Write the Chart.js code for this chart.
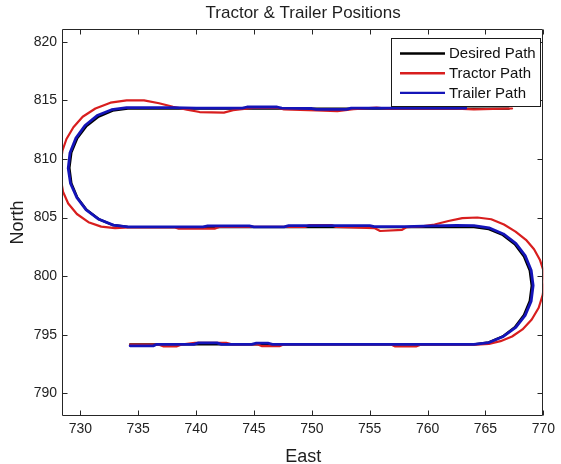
<!DOCTYPE html>
<html>
<head>
<meta charset="utf-8">
<script src="https://cdn.jsdelivr.net/npm/chart.js@4.4.1/dist/chart.umd.min.js"></script>
<style>
  html, body { margin: 0; padding: 0; background: #fff; }
  #wrap { width: 561px; height: 464px; }
</style>
</head>
<body>
<div id="wrap"><canvas id="c" width="561" height="464"></canvas></div>
<script>
// Series names, in legend order
const seriesNames = ['Desired Path', 'Tractor Path', 'Trailer Path'];

// Axis tick values
const eastTicks = [730, 735, 740, 745, 750, 755, 760, 765, 770];
const northTicks = [790, 795, 800, 805, 810, 815, 820];

// Desired path (East / North), driven bottom lane -> right turn -> middle lane -> left turn -> top lane
const desiredEast = [734.3, 764.0, 765.29, 766.5, 767.54, 768.33, 768.83, 769.0, 768.83, 768.33, 767.54, 766.5, 765.29, 764.0,
  734.1, 732.79, 731.58, 730.53, 729.73, 729.22, 729.05, 729.22, 729.73, 730.53, 731.58, 732.79, 734.1, 767.0];
const desiredNorth = [794.18, 794.18, 794.35, 794.85, 795.64, 796.68, 797.88, 799.18, 800.47, 801.68, 802.71, 803.51, 804.01, 804.18,
  804.19, 804.36, 804.87, 805.67, 806.72, 807.93, 809.24, 810.55, 811.77, 812.81, 813.61, 814.12, 814.29, 814.29];

// Tractor path
const tractorEast = [734.3, 736.8, 737.2, 738.3, 738.7, 739.9, 742.6, 743.1, 745.3, 745.7, 747.2, 747.6, 756.8, 757.2, 759.0, 759.4, 764.2,
  765.3, 766.3, 767.3, 768.2, 769.0, 769.6, 769.95, 770.1, 770.0, 769.7, 769.2, 768.5, 767.6, 766.6, 765.5, 764.3, 763.0, 761.8, 760.6, 759.5, 758.2,
  757.8, 755.9, 755.4, 752.1, 751.7, 749.8, 749.4, 742.0, 741.6, 738.5, 738.1, 734.2,
  733.0, 731.8, 730.7, 729.7, 728.95, 728.5, 728.3, 728.3, 728.45, 728.8, 729.4, 730.2, 731.3, 732.6, 734.0, 735.5, 736.8, 738.0, 739.2, 740.3,
  742.4, 743.2, 744.9, 747.1, 747.6, 750.4, 752.2, 753.6, 755.6, 756.6, 762.0, 764.0, 767.3];
const tractorNorth = [794.15, 794.15, 794.0, 794.0, 794.15, 794.3, 794.3, 794.18, 794.18, 794.02, 794.02, 794.18, 794.18, 794.0, 794.0, 794.15, 794.15,
  794.22, 794.45, 794.85, 795.45, 796.3, 797.3, 798.4, 799.5, 800.5, 801.4, 802.3, 803.1, 803.8, 804.4, 804.85, 805.0, 804.95, 804.7, 804.4, 804.25, 804.18,
  803.95, 803.85, 804.1, 804.2, 804.35, 804.35, 804.2, 804.2, 804.05, 804.05, 804.18, 804.15,
  804.1, 804.22, 804.6, 805.3, 806.2, 807.2, 808.4, 809.6, 810.7, 811.7, 812.7, 813.6, 814.3, 814.8, 815.0, 815.0, 814.75, 814.45, 814.2, 814.0,
  813.95, 814.15, 814.35, 814.35, 814.22, 814.15, 814.08, 814.25, 814.38, 814.28, 814.3, 814.22, 814.3];

// Trailer path
const trailerEast = [734.3, 736.3, 736.6, 739.8, 740.2, 741.8, 742.2, 744.8, 745.2, 746.2, 746.6, 764.0,
  765.3, 766.55, 767.62, 768.43, 768.95, 769.12, 768.95, 768.43, 767.62, 766.55, 765.3, 764.0, 762.5, 760.5, 758.0,
  755.4, 755.0, 748.0, 747.6, 745.0, 744.6, 741.0, 740.6, 734.1,
  732.85, 731.6, 730.5, 729.7, 729.15, 728.95, 729.1, 729.6, 730.4, 731.45, 732.7, 734.0, 738.0, 740.0, 744.0, 744.4, 747.0, 747.4,
  750.0, 750.4, 753.0, 753.4, 763.3];
const trailerNorth = [794.05, 794.05, 794.18, 794.18, 794.3, 794.3, 794.18, 794.18, 794.28, 794.28, 794.18, 794.18,
  794.33, 794.85, 795.62, 796.65, 797.87, 799.2, 800.5, 801.75, 802.8, 803.6, 804.12, 804.3, 804.32, 804.28, 804.22,
  804.22, 804.3, 804.3, 804.2, 804.2, 804.28, 804.28, 804.2, 804.2,
  804.35, 804.85, 805.65, 806.7, 807.9, 809.2, 810.5, 811.75, 812.85, 813.7, 814.2, 814.38, 814.38, 814.33, 814.33, 814.43, 814.43, 814.33,
  814.3, 814.22, 814.22, 814.33, 814.33];

const colors = ['#000000', '#d81e1e', '#1414b8'];
const widths = [2.4, 2.2, 2.8];
const FONT = "'Liberation Sans', Arial, Helvetica, sans-serif";

function toPoints(xs, ys) {
  return xs.map((x, i) => ({ x: x, y: ys[i] }));
}

// Frame, inward tick marks on all four sides, and boxed legend
const framePlugin = {
  id: 'frameAndLegend',
  afterDraw(chart) {
    const ctx = chart.ctx;
    const a = chart.chartArea;
    const xs = chart.scales.x, ys = chart.scales.y;
    const L = Math.round(a.left) - 0.5, R = Math.round(a.right) - 0.5;
    const T = Math.round(a.top) - 0.5, B = Math.round(a.bottom) + 0.5;
    const tl = 5;
    ctx.save();
    ctx.strokeStyle = '#262626';
    ctx.lineWidth = 1;
    ctx.beginPath();
    ctx.rect(L, T, R - L, B - T);
    eastTicks.forEach(v => {
      const px = Math.round(xs.getPixelForValue(v)) + 0.5;
      ctx.moveTo(px, B); ctx.lineTo(px, B - tl);
      ctx.moveTo(px, T); ctx.lineTo(px, T + tl);
    });
    northTicks.forEach(v => {
      const py = Math.round(ys.getPixelForValue(v)) + 0.5;
      ctx.moveTo(L, py); ctx.lineTo(L + tl, py);
      ctx.moveTo(R, py); ctx.lineTo(R - tl, py);
    });
    ctx.stroke();

    // Legend box
    const bx = 391.5, by = 38.5, bw = 149, bh = 68;
    ctx.fillStyle = '#ffffff';
    ctx.fillRect(bx, by, bw, bh);
    ctx.strokeStyle = '#1a1a1a';
    ctx.strokeRect(bx, by, bw, bh);
    ctx.font = '15px ' + FONT;
    ctx.textBaseline = 'middle';
    ctx.textAlign = 'left';
    seriesNames.forEach((name, i) => {
      const y = 53.5 + i * 19.7;
      ctx.strokeStyle = colors[i];
      ctx.lineWidth = 2.4;
      ctx.beginPath();
      ctx.moveTo(400, y); ctx.lineTo(445, y);
      ctx.stroke();
      ctx.fillStyle = '#111111';
      ctx.fillText(name, 449, y + 0.5);
    });
    ctx.restore();
  }
};

const datasets = [
  { label: seriesNames[0], data: toPoints(desiredEast, desiredNorth), order: 3 },
  { label: seriesNames[1], data: toPoints(tractorEast, tractorNorth), order: 2 },
  { label: seriesNames[2], data: toPoints(trailerEast, trailerNorth), order: 1 }
].map((d, i) => Object.assign(d, {
  showLine: true,
  borderColor: colors[i],
  backgroundColor: colors[i],
  borderWidth: widths[i],
  pointRadius: 0,
  pointHoverRadius: 0,
  tension: 0,
  fill: false,
  clip: 0,
  borderJoinStyle: 'round',
  borderCapStyle: 'round'
}));

new Chart(document.getElementById('c'), {
  type: 'scatter',
  data: { datasets: datasets },
  options: {
    responsive: false,
    animation: false,
    devicePixelRatio: 1,
    layout: { padding: { left: 0, right: 14, top: 0, bottom: 0 } },
    plugins: {
      legend: { display: false },
      tooltip: { enabled: false },
      title: {
        display: true,
        text: 'Tractor & Trailer Positions',
        fullSize: false,
        color: '#1e1e1e',
        font: { family: FONT, size: 17, weight: 'normal', lineHeight: 1.2 },
        padding: { top: 3, bottom: 6.6 }
      }
    },
    scales: {
      x: {
        type: 'linear',
        min: 728.5,
        max: 770,
        afterBuildTicks: s => { s.ticks = eastTicks.map(v => ({ value: v })); },
        afterFit: s => { s.height = 49; },
        grid: { display: false, drawTicks: false },
        border: { display: false },
        ticks: { color: '#222', padding: 6, font: { family: FONT, size: 14 }, maxRotation: 0, autoSkip: false },
        title: {
          display: true, text: 'East', color: '#1e1e1e',
          font: { family: FONT, size: 18, lineHeight: 1 },
          padding: { top: 0, bottom: -1.8 }
        }
      },
      y: {
        type: 'linear',
        min: 788.15,
        max: 821.0,
        afterBuildTicks: s => { s.ticks = northTicks.map(v => ({ value: v })); },
        afterFit: s => { s.width = 63; },
        grid: { display: false, drawTicks: false },
        border: { display: false },
        ticks: { color: '#222', padding: 6, font: { family: FONT, size: 14 }, autoSkip: false },
        title: {
          display: true, text: 'North', color: '#1e1e1e',
          font: { family: FONT, size: 18, lineHeight: 1.2 },
          padding: { top: 7, bottom: 0 }
        }
      }
    }
  },
  plugins: [framePlugin]
});
</script>
</body>
</html>
